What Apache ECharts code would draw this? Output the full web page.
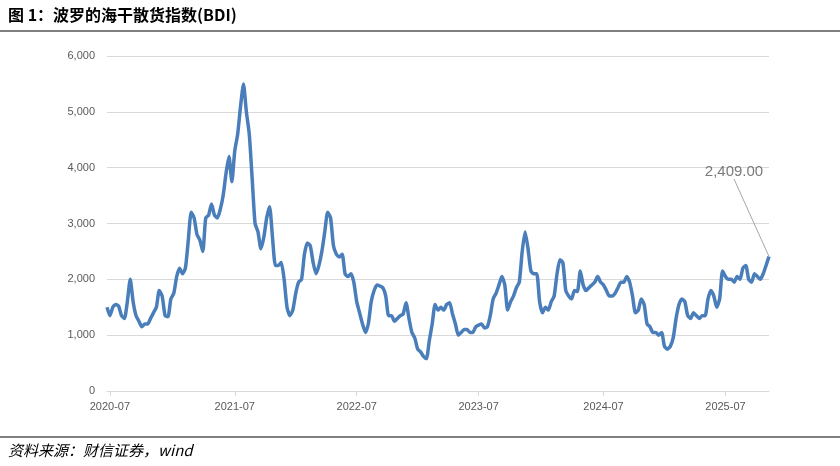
<!DOCTYPE html>
<html>
<head>
<meta charset="utf-8">
<script src="https://cdn.jsdelivr.net/npm/echarts@6/dist/echarts.min.js"></script>
<style>html,body{margin:0;padding:0;background:#fff}#main{width:840px;height:466px}</style>
</head>
<body>
<div id="main"></div>
<script>
// BDI values, roughly evenly spaced from 2020-06-25 to 2025-11-08
var bdiValues = [1500,1350,1500,1550,1520,1350,1300,1600,2000,1600,1350,1250,1150,1200,1200,1300,1400,1500,1800,1700,
  1350,1330,1650,1750,2050,2200,2100,2200,2700,3200,3100,2800,2700,2500,3100,3150,3350,3150,3100,3250,
  3500,3900,4200,3750,4300,4600,5100,5500,5000,4600,3800,3000,2850,2550,2750,3100,3300,2750,2250,2250,
  2300,2000,1500,1350,1450,1750,1950,2000,2450,2650,2600,2300,2100,2250,2500,2850,3200,3100,2600,2450,
  2400,2450,2100,2050,2100,1950,1600,1400,1200,1050,1200,1600,1800,1900,1880,1850,1700,1350,1350,1250,
  1300,1350,1380,1580,1300,1050,950,750,700,620,580,900,1200,1550,1450,1500,1450,1550,1580,1380,
  1200,1000,1050,1100,1100,1050,1050,1150,1180,1200,1130,1150,1350,1650,1750,1900,2050,1900,1450,1600,
  1700,1850,1950,2500,2850,2550,2150,2100,2100,1600,1400,1500,1450,1600,1700,2100,2350,2300,1800,1700,
  1650,1800,1780,2150,1900,1800,1850,1900,1950,2050,1950,1900,1800,1700,1700,1750,1850,1950,1950,2050,
  1950,1700,1400,1450,1650,1550,1200,1150,1050,1050,1000,1050,800,750,800,950,1300,1550,1650,1600,
  1350,1300,1400,1350,1300,1350,1350,1650,1800,1700,1500,1650,2150,2050,2000,2000,1950,2050,2000,2200,
  2250,2000,1950,2100,2050,2000,2100,2250,2409];
var startDate = new Date(2020, 5, 25);
var endDate = new Date(2025, 10, 8);
var yTicks = [0, 1000, 2000, 3000, 4000, 5000, 6000];

var n = bdiValues.length;
var dates = [];
for (var i = 0; i < n; i++) {
  var d = new Date(startDate.getTime() + (endDate - startDate) * i / (n - 1));
  dates.push(d.getFullYear() + '-' + ('0' + (d.getMonth() + 1)).slice(-2));
}
function isJulyStart(idx) {
  return dates[idx].slice(5) === '07' && (idx === 0 || dates[idx - 1] !== dates[idx]);
}
// only the last point carries the callout label
var lastPoint = bdiValues.map(function (v, i) { return i === n - 1 ? v : null; });

var chart = echarts.init(document.getElementById('main'));
chart.setOption({
  animation: false,
  grid: {left: 107, right: 71, top: 56, bottom: 75},
  graphic: [
    {type: 'text', left: 8, top: 7, style: {text: '图 1：波罗的海干散货指数(BDI)', font: 'bold 16px "Noto Sans CJK SC", serif', fill: '#000'}},
    {type: 'line', shape: {x1: 0, y1: 31, x2: 840, y2: 31}, style: {stroke: '#000', lineWidth: 1}},
    {type: 'line', shape: {x1: 0, y1: 437, x2: 840, y2: 437}, style: {stroke: '#000', lineWidth: 1}},
    {type: 'text', left: 8, top: 443, style: {text: '资料来源：财信证券，wind', font: 'italic 15px "Noto Sans CJK SC", serif', fill: '#000'}}
  ],
  xAxis: {
    type: 'category', data: dates, boundaryGap: false,
    axisLine: {lineStyle: {color: '#d9d9d9'}},
    axisTick: {interval: function (i) { return isJulyStart(i); }, lineStyle: {color: '#d9d9d9'}, length: 5},
    axisLabel: {interval: function (i) { return isJulyStart(i); }, color: '#595959', fontSize: 11, margin: 10, fontFamily: 'Liberation Sans'}
  },
  yAxis: {
    type: 'value', min: yTicks[0], max: yTicks[yTicks.length - 1], interval: 1000,
    axisLine: {show: false}, axisTick: {show: false},
    splitLine: {lineStyle: {color: '#d9d9d9'}},
    axisLabel: {color: '#595959', fontSize: 11, margin: 12, fontFamily: 'Liberation Sans',
      formatter: function (v) { return v.toLocaleString('en-US'); }}
  },
  series: [{
    type: 'line', data: bdiValues, showSymbol: false, smooth: 0.2,
    lineStyle: {color: '#4a7ebb', width: 3.5}, itemStyle: {color: '#4a7ebb'}
  }, {
    type: 'scatter', data: lastPoint, symbolSize: 1, itemStyle: {color: 'rgba(0,0,0,0)'},
    label: {show: true, position: 'top', color: '#595959', fontSize: 15, fontFamily: 'Liberation Sans',
      formatter: function (p) { return p.value.toLocaleString('en-US', {minimumFractionDigits: 2}); }},
    labelLayout: {dx: -35, dy: -72},
    labelLine: {show: true, lineStyle: {color: '#a6a6a6', width: 1}}
  }]
});
</script>
</body>
</html>
